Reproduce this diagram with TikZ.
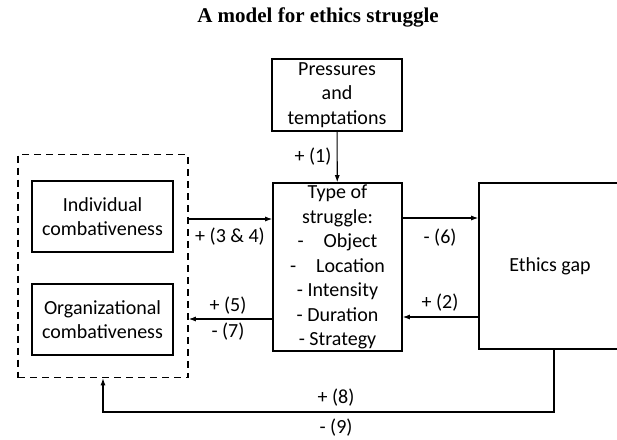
\documentclass[tikz,border=0pt]{standalone}
\usepackage{fontspec}
\setmainfont{Carlito}
\newfontfamily\titlefont{Liberation Serif}
\usetikzlibrary{arrows.meta}
\begin{document}
\begin{tikzpicture}[x=1pt,y=-1pt,
  box/.style={draw,line width=1.6pt,inner sep=0pt,align=center,
    font=\fontsize{20}{24.5}\selectfont},
  dashbox/.style={draw,line width=1.6pt,dash pattern=on 7pt off 5pt,inner sep=0pt},
  arr/.style={line width=1.1pt,-{Latex[length=7pt,width=5pt]}},
  lbl/.style={font=\fontsize{20}{24.5}\selectfont,inner sep=0pt}]
\useasboundingbox (0,0) rectangle (617,439);
\node[font=\titlefont\bfseries\fontsize{21}{24}\selectfont] (title) at (318,17) {A model for ethics struggle};
\node[box,minimum width=130pt,minimum height=72pt] (press) at (337,95) {Pressures\\and\\temptations};
\node[box,minimum width=129pt,minimum height=168pt] (type) at (337.5,267)
  {Type of\\struggle:\\-\quad Object\\-\quad Location\\- Intensity\\- Duration\\- Strategy};
\node[box,minimum width=142pt,minimum height=166pt] (gap) at (550,266) {Ethics gap};
\node[dashbox,minimum width=170pt,minimum height=223pt] (grp) at (103,266) {};
\node[box,minimum width=141pt,minimum height=71pt] (ind) at (102.5,216.5) {Individual\\combativeness};
\node[box,minimum width=141pt,minimum height=71pt] (org) at (102.5,319.5) {Organizational\\combativeness};
\coordinate (y1) at (0,219);
\coordinate (y2) at (0,319);
\coordinate (y3) at (0,218);
\coordinate (y4) at (0,317);
\coordinate (fb) at (0,412);
\draw[arr] (press) -- (type);
\node[lbl] (l1) at (313,157) {+ (1)};
\draw[arr] (grp.east |- y1) -- (type.west |- y1);
\node[lbl] (l34) at (230,237) {+ (3 \& 4)};
\draw[arr] (type.west |- y2) -- (grp.east |- y2);
\node[lbl] (l5) at (228,306) {+ (5)};
\node[lbl] (l7) at (228,332) {- (7)};
\draw[arr] (type.east |- y3) -- (gap.west |- y3);
\node[lbl] (l6) at (440,238) {- (6)};
\draw[arr] (gap.west |- y4) -- (type.east |- y4);
\node[lbl] (l2) at (440,303) {+ (2)};
\draw[arr] ([xshift=4pt]gap.south) -- ([xshift=4pt]gap.south |- fb) -- (grp.south |- fb) -- (grp.south);
\node[lbl] (l8) at (336,398) {+ (8)};
\node[lbl] (l9) at (336,428) {- (9)};
\end{tikzpicture}
\end{document}
